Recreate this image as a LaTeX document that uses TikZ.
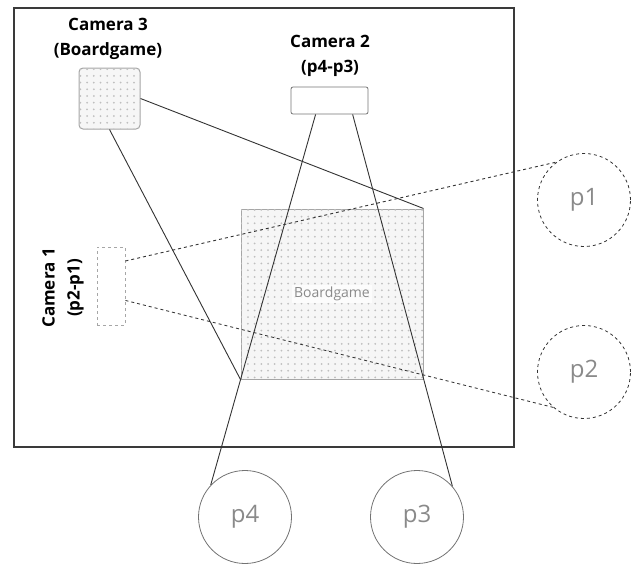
\documentclass[tikz,border=0pt]{standalone}
\usepackage{fontspec}
\setmainfont{Open Sans}
\usetikzlibrary{patterns.meta}
\definecolor{frame}{HTML}{3A3A3A}
\definecolor{wire}{HTML}{333333}
\definecolor{label}{HTML}{8A8A8A}
\tikzset{
  dotted box/.style={draw=gray!70, line width=1pt, fill=gray!7,
    postaction={pattern={Dots[distance=6.7pt, radius=1pt]}, pattern color=gray!50}},
  player/.style={circle, draw=gray!90!black, line width=0.8pt, minimum size=93pt, inner sep=0pt,
    text=label, font=\fontsize{24}{26}\selectfont},
  cam title/.style={align=center, font=\fontsize{17}{25}\selectfont\bfseries}
}
\begin{document}
\begin{tikzpicture}[x=1pt, y=-1pt, every node/.style={inner sep=0pt}]
      \useasboundingbox (0,0) rectangle (636,565);
      \draw[frame, line width=1.1pt] (14,8) rectangle (514,447);
      % the board and the cameras
      \node (board) at (332,294) [dotted box, minimum width=182pt, minimum height=170pt] {};
      \node (boardtext) at (board) [fill=white, fill opacity=0.75, text opacity=1, text=label,
        inner sep=2pt, font=\fontsize{14}{16}\selectfont] {Boardgame};
      \node (cam3) at (109.5,98.5) [dotted box, rounded corners=4pt, minimum width=61pt, minimum height=61pt] {};
      \node (cam2) at (329.5,100.5) [draw=gray!90!black, line width=0.8pt, rounded corners=2pt, minimum width=77pt, minimum height=27pt] {};
      \node (cam1) at (111,286) [draw=gray!70, line width=0.9pt, dashed, minimum width=28pt, minimum height=78pt] {};
      \node (cam3title) at (108,39) [cam title] {Camera 3\\(Boardgame)};
      \node (cam2title) at (330,56) [cam title] {Camera 2\\(p4-p3)};
      \node (cam1title) at (63,288) [cam title, rotate=90] {Camera 1\\(p2-p1)};
      % the players
      \node (p1) at (584,200) [player, dashed, draw=wire] {p1};
      \node (p2) at (584,372) [player, dashed, draw=wire] {p2};
      \node (p4) at (245,517) [player] {p4};
      \node (p3) at (417,517) [player] {p3};
      % views
      \foreach \source/\dest in {cam3.east/board.north east, cam3.south/board.south west, cam2.225/p4.137, cam2.-31/p3.41}
        \path[draw=wire, line width=0.9pt] (\source) edge (\dest);
      \foreach \source/\dest in {cam1.60/p1.126, cam1.-45/p2.229}
        \path[draw=wire, dashed, line width=0.9pt] (\source) edge (\dest);
\end{tikzpicture}
\end{document}
